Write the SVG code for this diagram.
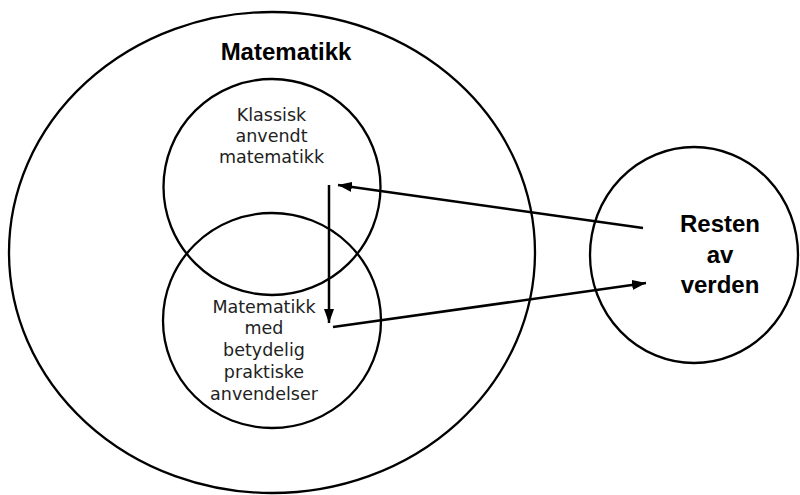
<svg xmlns="http://www.w3.org/2000/svg" width="800" height="495" viewBox="0 0 800 495">
  <style>
    .ring { fill: none; stroke: #000; stroke-width: 2.3; }
    .link { fill: none; stroke: #000; stroke-width: 2.5; }
    .title { font-family: "Liberation Sans", Arial, sans-serif; font-weight: bold; font-size: 24px; fill: #000; text-anchor: middle; }
    .label { font-family: "DejaVu Sans", Verdana, sans-serif; font-size: 17.5px; fill: #222; text-anchor: middle; }
  </style>
  <defs>
    <marker id="head" viewBox="0 0 14 10" refX="14" refY="5" markerWidth="14" markerHeight="10" markerUnits="userSpaceOnUse" orient="auto">
      <path d="M0,0 L14,5 L0,10 Z" fill="#000"/>
    </marker>
  </defs>
  <rect width="800" height="495" fill="#fff"/>

  <g id="matematikk">
    <ellipse class="ring" cx="272" cy="252.5" rx="263" ry="240.5"/>
    <text class="title" x="286" y="60">Matematikk</text>
  </g>

  <g id="klassisk">
    <ellipse class="ring" cx="272" cy="187" rx="108.5" ry="108"/>
    <text class="label" x="271.5" y="121">Klassisk</text>
    <text class="label" x="271.5" y="142">anvendt</text>
    <text class="label" x="271.5" y="163">matematikk</text>
  </g>

  <g id="praktisk">
    <ellipse class="ring" cx="272" cy="320.5" rx="109" ry="107.5"/>
    <text class="label" x="264" y="313">Matematikk</text>
    <text class="label" x="264" y="334">med</text>
    <text class="label" x="264" y="356">betydelig</text>
    <text class="label" x="264" y="378">praktiske</text>
    <text class="label" x="264" y="400">anvendelser</text>
  </g>

  <g id="resten">
    <ellipse class="ring" cx="694" cy="255" rx="104" ry="108"/>
    <text class="title" x="720" y="232">Resten</text>
    <text class="title" x="720" y="263">av</text>
    <text class="title" x="720" y="293">verden</text>
  </g>

  <g id="connectors">
    <line class="link" x1="329" y1="185" x2="329" y2="323" marker-end="url(#head)"/>
    <line class="link" x1="643" y1="228" x2="338" y2="185" marker-end="url(#head)"/>
    <line class="link" x1="333" y1="327" x2="646" y2="283" marker-end="url(#head)"/>
  </g>
</svg>
